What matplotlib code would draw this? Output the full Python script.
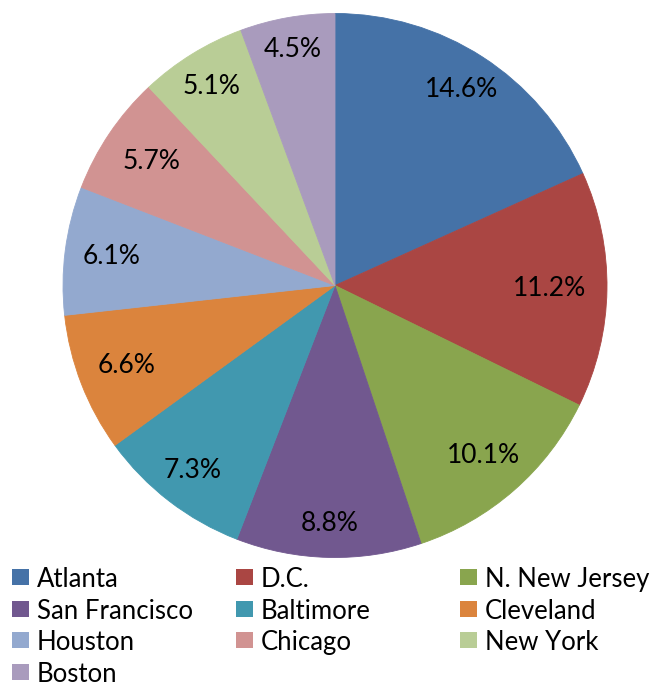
import numpy as np
import matplotlib.pyplot as plt
from matplotlib.patches import Rectangle

plt.rcParams['font.family'] = ['Lato', 'DejaVu Sans']

# Dados
cidades = ["Atlanta", "D.C.", "N. New Jersey", "San Francisco", "Baltimore",
           "Cleveland", "Houston", "Chicago", "New York", "Boston"]
percentuais = [14.6, 11.2, 10.1, 8.8, 7.3, 6.6, 6.1, 5.7, 5.1, 4.5]
cores = ["#4572A7", "#AA4643", "#89A54E", "#71588F", "#4198AF",
         "#DB843D", "#93A9CF", "#D19392", "#B9CD96", "#A99BBD"]

W, H = 660, 688
fig = plt.figure(figsize=(W / 100, H / 100), dpi=100)

# pie area (px): center (335, 285), radius 272
cx, cy, r = 335, 285.5, 272
ax = fig.add_axes([(cx - r) / W, (H - cy - r) / H, 2 * r / W, 2 * r / H])
wedges, _ = ax.pie(percentuais, colors=cores, startangle=90, counterclock=False)
for w, cor in zip(wedges, cores):
    w.set_edgecolor(cor)
    w.set_linewidth(0.6)
ax.set_xlim(-1, 1)
ax.set_ylim(-1, 1)
ax.set_aspect("equal")

# distância dos rótulos (fração do raio)
dist = [0.856, 0.79, 0.83, 0.875, 0.857, 0.82, 0.83, 0.815, 0.86, 0.88]
for w, p, d in zip(wedges, percentuais, dist):
    ang = np.deg2rad((w.theta1 + w.theta2) / 2)
    ax.text(d * np.cos(ang), d * np.sin(ang), f"{p}%", ha="center", va="center",
            fontsize=19, color="black")

# legenda manual (3 colunas, ordem por linha)
for i, (cid, cor) in enumerate(zip(cidades, cores)):
    lin, col = divmod(i, 3)
    x = 12 + 224 * col
    y = 577 + 31.7 * lin
    fig.patches.append(Rectangle((x / W, (H - y - 8) / H), 17 / W, 16 / H,
                                 transform=fig.transFigure, facecolor=cor,
                                 edgecolor="none"))
    fig.text((x + 25) / W, (H - y) / H, cid, ha="left", va="center_baseline",
             fontsize=18.5, color="black")

plt.savefig("out.png", dpi=100)
